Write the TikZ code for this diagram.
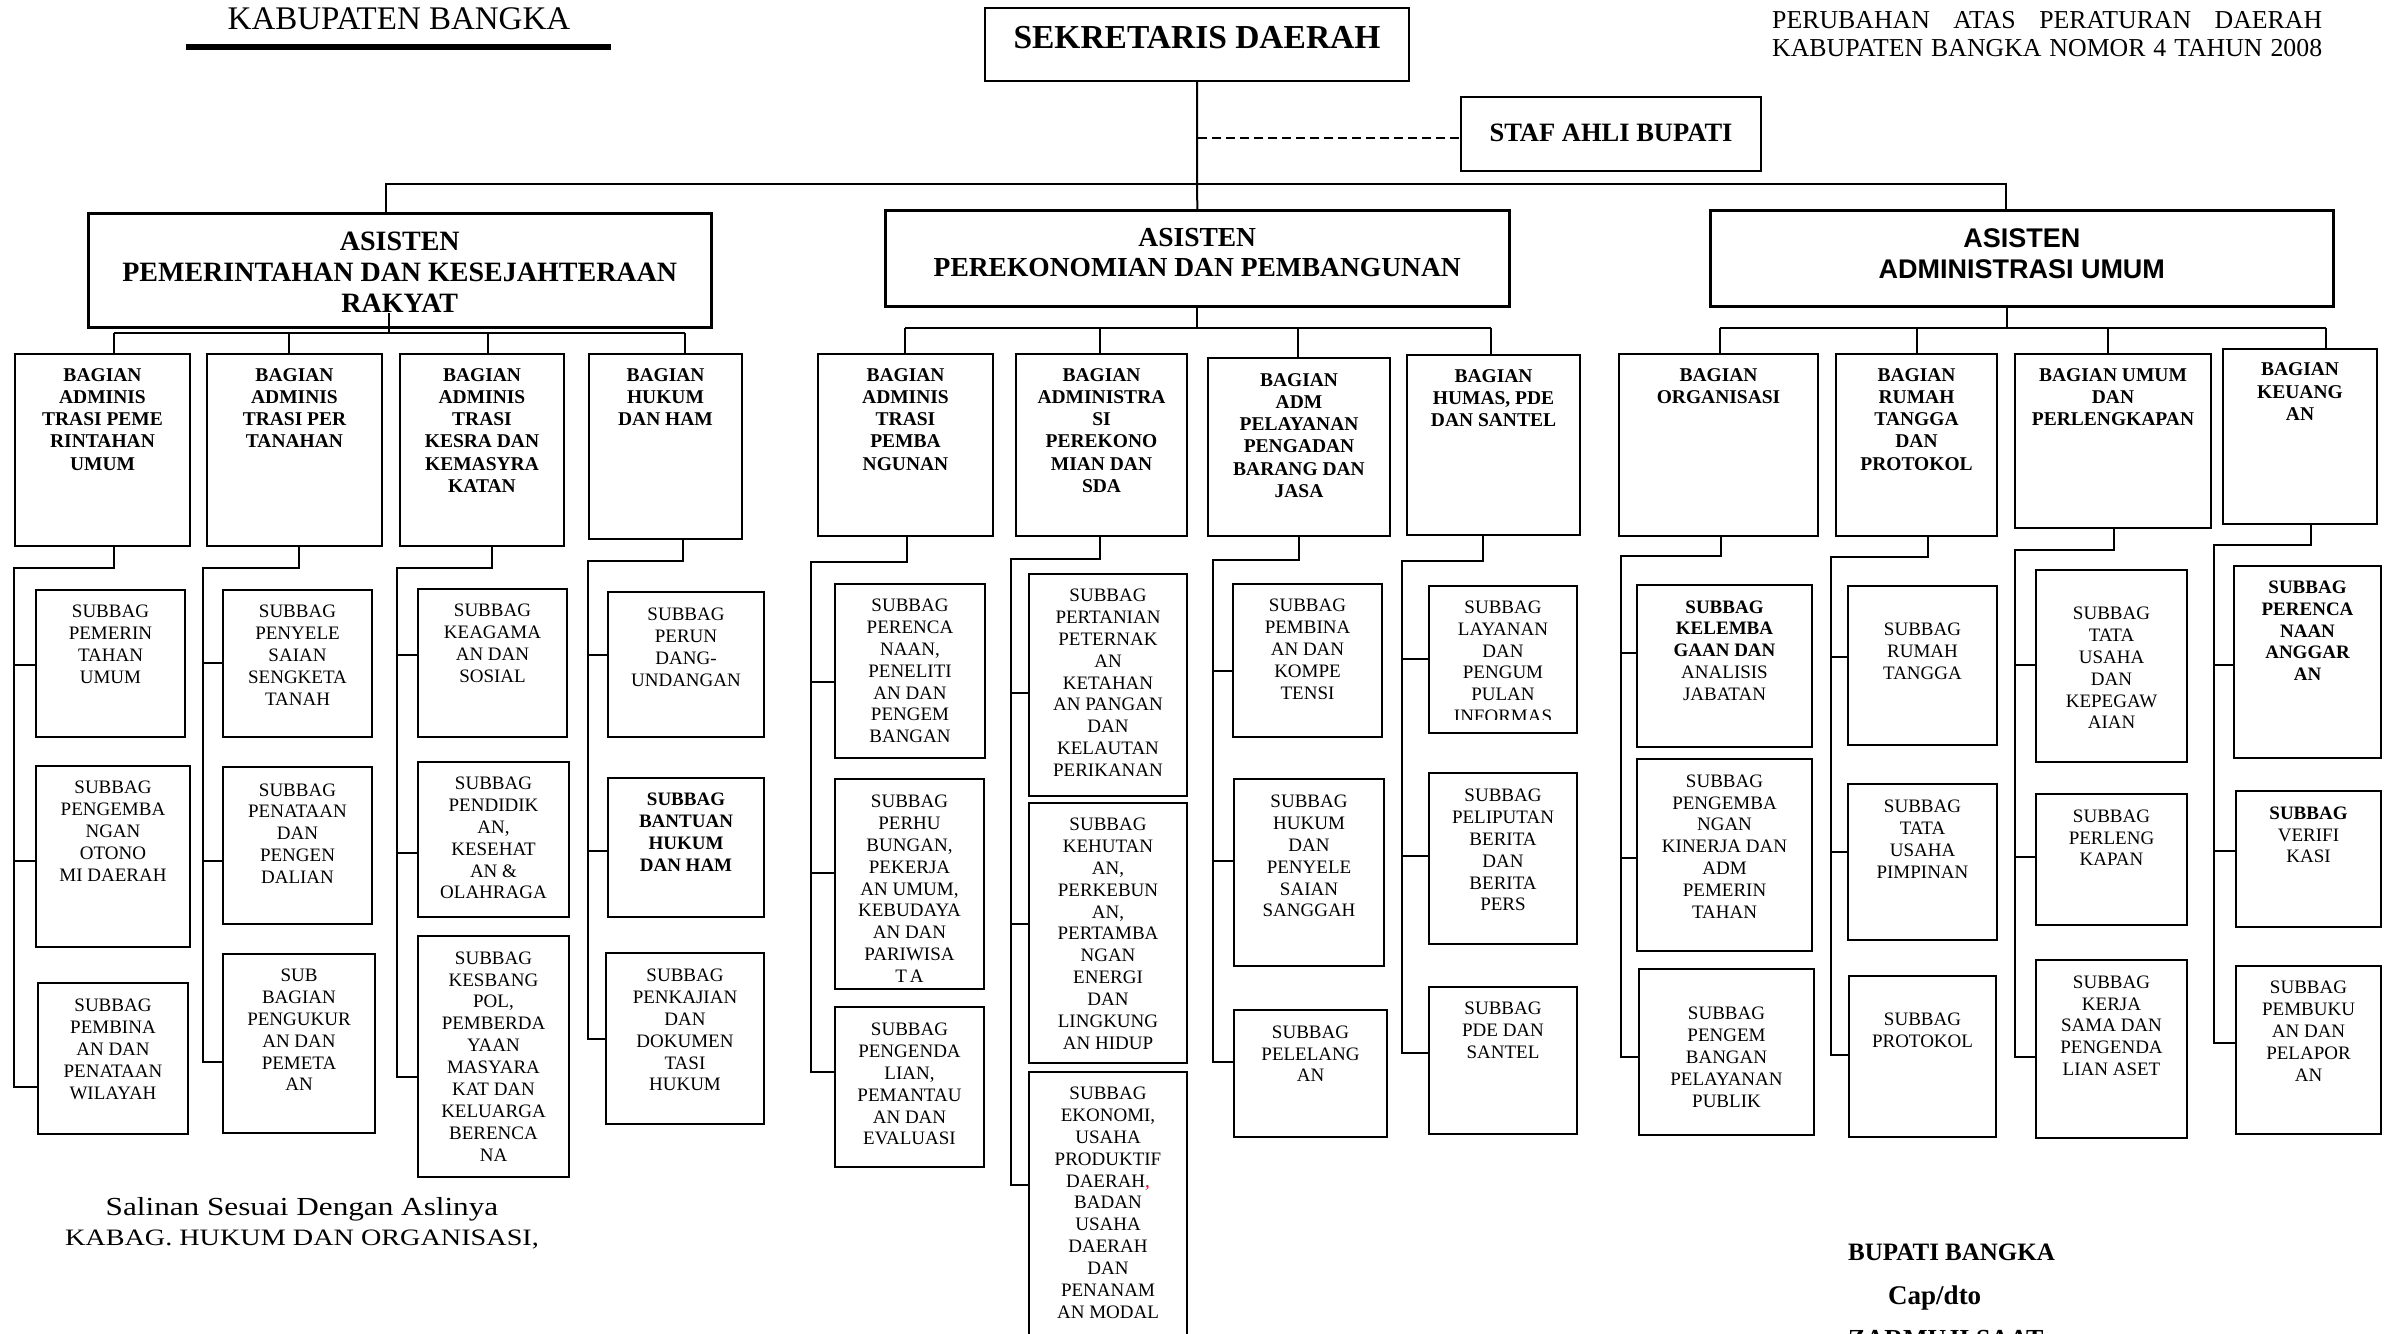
\documentclass[tikz,border=0pt]{standalone}
\usepackage{fontspec}
\setmainfont{Liberation Serif}
\setsansfont{Liberation Sans}
\newfontfamily\widefont[FakeStretch=1.2]{Liberation Serif}
\tikzset{
  box/.style={draw, line width=2pt, inner sep=0pt, anchor=north west},
  thickbox/.style={line width=2.5pt},
  conn/.style={line width=2pt},
  sub/.style={align=center, inner sep=0pt, anchor=north, font=\fontsize{19}{21.9}\selectfont},
  subb/.style={sub, font=\bfseries\fontsize{19}{21.9}\selectfont},
  bag/.style={align=center, inner sep=0pt, anchor=north, font=\bfseries\fontsize{19.5}{22.1}\selectfont},
  asis/.style={align=center, inner sep=0pt, anchor=north},
  plain/.style={inner sep=0pt},
}
\newcommand\bx[6][]{\node[box,#1,minimum width={(#5)-(#3)},minimum height={(#6)-(#4)}] (#2) at (#3,#4) {};}
\newcommand\tx[4][sub]{\node[#1] (#2t) at (#2.north |- 0,#3) {#4};}
\newcommand\spine[6]{\draw[conn] (#1.south -| #2,0) -- (#2,#3) -- (#4,#3) -- (#4,#5) -- (#6.west |- 0,#5);}
\newcommand\tick[3]{\draw[conn] (#2,#3) -- (#1.west |- 0,#3);}
\begin{document}
\begin{tikzpicture}[x=1pt,y=-1pt]
\useasboundingbox (0,0) rectangle (2384,1333);
\fill[white] (0,0) rectangle (2384,1333);
\clip (0,0) rectangle (2384,1333);

% ---------- header ----------
\node[plain, anchor=base, font=\fontsize{33}{36}\selectfont] (kab) at (399,29.3) {KABUPATEN BANGKA};
\draw[line width=6pt] (186,47) -- (611,47);
\node[plain, anchor=base west, font=\fontsize{25.8}{28}\selectfont] (perda1) at (1772,28.3) {\makebox[550pt][s]{PERUBAHAN ATAS PERATURAN DAERAH}};
\node[plain, anchor=base west, font=\fontsize{25.8}{28}\selectfont] (perda2) at (1772,56.7) {\makebox[550pt][s]{KABUPATEN BANGKA NOMOR 4 TAHUN 2008}};

% ---------- top ----------
\bx{sd}{984}{7}{1408}{80}
\node[plain, anchor=base, font=\bfseries\fontsize{33.5}{36}\selectfont] (sdt) at (sd.north |- 0,48.3) {SEKRETARIS DAERAH};
\bx{staf}{1460}{96}{1760}{170}
\node[plain, anchor=base, font=\bfseries\fontsize{26.5}{30}\selectfont] (staft) at (staf.north |- 0,141.7) {STAF AHLI BUPATI};

\bx[thickbox]{a1}{87}{212}{710}{326}
\tx[asis, font=\bfseries\fontsize{28}{31}\selectfont]{a1}{232}{ASISTEN\\PEMERINTAHAN DAN KESEJAHTERAAN\\RAKYAT}
\bx[thickbox]{a2}{884}{209}{1508}{305}
\tx[asis, font=\bfseries\fontsize{27.5}{30.5}\selectfont]{a2}{228}{ASISTEN\\PEREKONOMIAN DAN PEMBANGUNAN}
\bx[thickbox]{a3}{1709}{209}{2332}{305}
\tx[asis, font=\sffamily\bfseries\fontsize{27}{31.7}\selectfont]{a3}{228}{ASISTEN\\ADMINISTRASI UMUM}

\draw[conn] (sd.south) -- (a2.north);
\draw[line width=1.5pt, dash pattern=on 9pt off 5pt] (1198,138) -- (staf.west |- 0,138);
\draw[conn] (a1.north -| 386,0) -- (386,184) -- (2006,184) -- (a3.north -| 2006,0);

% ---------- group 1 ----------
\bx{b1}{14}{353}{189}{545} \tx[bag]{b1}{368.5}{BAGIAN\\ADMINIS\\TRASI PEME\\RINTAHAN\\UMUM}
\bx{b2}{206}{353}{381}{545} \tx[bag]{b2}{368.5}{BAGIAN\\ADMINIS\\TRASI PER\\TANAHAN}
\bx{b3}{399}{353}{563}{545} \tx[bag]{b3}{368.5}{BAGIAN\\ADMINIS\\TRASI\\KESRA DAN\\KEMASYRA\\KATAN}
\bx{b4}{588}{353}{741}{538} \tx[bag]{b4}{368.5}{BAGIAN\\HUKUM\\DAN HAM}

\draw[conn] (389,313) -- (389,333);
\draw[conn] (114,333) -- (685,333);
\draw[conn] (114,333) -- (b1.north -| 114,0);
\draw[conn] (289,333) -- (b2.north -| 289,0);
\draw[conn] (488,333) -- (b3.north -| 488,0);
\draw[conn] (685,333) -- (b4.north -| 685,0);

\bx{s1a}{35}{589}{184}{736} \tx{s1a}{605.1}{SUBBAG\\PEMERIN\\TAHAN\\UMUM}
\bx{s1b}{35}{765}{189}{946} \tx{s1b}{780.7}{SUBBAG\\PENGEMBA\\NGAN\\OTONO\\MI DAERAH}
\bx{s1c}{37}{982}{187}{1133} \tx{s1c}{999}{SUBBAG\\PEMBINA\\AN DAN\\PENATAAN\\WILAYAH}
\bx{s2a}{222}{589}{371}{736} \tx{s2a}{605.1}{SUBBAG\\PENYELE\\SAIAN\\SENGKETA\\TANAH}
\bx{s2b}{222}{766}{371}{923} \tx{s2b}{783.3}{SUBBAG\\PENATAAN\\DAN\\PENGEN\\DALIAN}
\bx{s2c}{222}{953}{374}{1132} \tx{s2c}{968.7}{SUB\\BAGIAN\\PENGUKUR\\AN DAN\\PEMETA\\AN}
\bx{s3a}{417}{588}{566}{736} \tx{s3a}{604.1}{SUBBAG\\KEAGAMA\\AN DAN\\SOSIAL}
\bx{s3b}{417}{761}{568}{916} \tx{s3b}{776.7}{SUBBAG\\PENDIDIK\\AN,\\KESEHAT\\AN \&\\OLAHRAGA}
\bx{s3c}{417}{935}{568}{1176} \tx{s3c}{951.4}{SUBBAG\\KESBANG\\POL,\\PEMBERDA\\YAAN\\MASYARA\\KAT DAN\\KELUARGA\\BERENCA\\NA}
\bx{s4a}{607}{591}{763}{736} \tx{s4a}{607.7}{SUBBAG\\PERUN\\DANG-\\UNDANGAN}
\bx{s4b}{607}{777}{763}{916} \tx[subb]{s4b}{793.1}{SUBBAG\\BANTUAN\\HUKUM\\DAN HAM}
\bx{s4c}{605}{952}{763}{1123} \tx{s4c}{968.7}{SUBBAG\\PENKAJIAN\\DAN\\DOKUMEN\\TASI\\HUKUM}

\spine{b1}{114}{568}{14}{1087}{s1c} \tick{s1a}{14}{665} \tick{s1b}{14}{861}
\spine{b2}{299}{568}{203}{1062}{s2c} \tick{s2a}{203}{663} \tick{s2b}{203}{861}
\spine{b3}{492}{568}{397}{1077}{s3c} \tick{s3a}{397}{655} \tick{s3b}{397}{853}
\spine{b4}{683}{561}{588}{1039}{s4c} \tick{s4a}{588}{655} \tick{s4b}{588}{851}

% ---------- group 2 ----------
\draw[conn] (a2.south) -- (a2.south |- 0,328);
\draw[conn] (905,328) -- (1491,328);
\bx{c1}{817}{353}{992}{535} \tx[bag]{c1}{368.5}{BAGIAN\\ADMINIS\\TRASI\\PEMBA\\NGUNAN}
\bx{c2}{1015}{353}{1186}{535} \tx[bag]{c2}{368.5}{BAGIAN\\ADMINISTRA\\SI\\PEREKONO\\MIAN DAN\\SDA}
\bx{c3}{1207}{357}{1389}{535} \tx[bag]{c3}{373.5}{BAGIAN\\ADM\\PELAYANAN\\PENGADAN\\BARANG DAN\\JASA}
\bx{c4}{1406}{354}{1579}{534} \tx[bag]{c4}{369.2}{BAGIAN\\HUMAS, PDE\\DAN SANTEL}
\draw[conn] (905,328) -- (c1.north -| 905,0);
\draw[conn] (1100,328) -- (c2.north -| 1100,0);
\draw[conn] (1298,328) -- (c3.north -| 1298,0);
\draw[conn] (1491,328) -- (c4.north -| 1491,0);

\bx{d1a}{834}{583}{984}{757} \tx{d1a}{598.7}{SUBBAG\\PERENCA\\NAAN,\\PENELITI\\AN DAN\\PENGEM\\BANGAN}
\bx{d1b}{834}{778}{983}{988} \tx{d1b}{794.7}{SUBBAG\\PERHU\\BUNGAN,\\PEKERJA\\AN UMUM,\\KEBUDAYA\\AN DAN\\PARIWISA\\T\kern3pt A}
\bx{d1c}{834}{1006}{983}{1166} \tx{d1c}{1022.7}{SUBBAG\\PENGENDA\\LIAN,\\PEMANTAU\\AN DAN\\EVALUASI}
\bx{d2a}{1028}{573}{1186}{795} \tx{d2a}{588.7}{SUBBAG\\PERTANIAN\\PETERNAK\\AN\\KETAHAN\\AN PANGAN\\DAN\\KELAUTAN\\PERIKANAN}
\bx{d2b}{1028}{802}{1186}{1062} \tx{d2b}{817.7}{SUBBAG\\KEHUTAN\\AN,\\PERKEBUN\\AN,\\PERTAMBA\\NGAN\\ENERGI\\DAN\\LINGKUNG\\AN HIDUP}
\bx{d2c}{1028}{1071}{1186}{1360} \tx{d2c}{1086.7}{SUBBAG\\EKONOMI,\\USAHA\\PRODUKTIF\\DAERAH{\color{red},}\\BADAN\\USAHA\\DAERAH\\DAN\\PENANAM\\AN MODAL}
\bx{d3a}{1232}{583}{1381}{736} \tx{d3a}{598.7}{SUBBAG\\PEMBINA\\AN DAN\\KOMPE\\TENSI}
\bx{d3b}{1233}{778}{1383}{965} \tx{d3b}{794.7}{SUBBAG\\HUKUM\\DAN\\PENYELE\\SAIAN\\SANGGAH}
\bx{d3c}{1233}{1009}{1386}{1136} \tx{d3c}{1025.4}{SUBBAG\\PELELANG\\AN}
\bx{d4a}{1428}{585}{1576}{732}
\begin{scope}
\clip (1428,585) rectangle (1576,719);
\tx{d4a}{600.5}{SUBBAG\\LAYANAN\\DAN\\PENGUM\\PULAN\\INFORMAS}
\end{scope}
\bx{d4b}{1428}{772}{1576}{943} \tx{d4b}{788.7}{SUBBAG\\PELIPUTAN\\BERITA\\DAN\\BERITA\\PERS}
\bx{d4c}{1428}{986}{1576}{1133} \tx{d4c}{1001.7}{SUBBAG\\PDE DAN\\SANTEL}

\spine{c1}{907}{562}{811}{1072}{d1c} \tick{d1a}{811}{682} \tick{d1b}{811}{873}
\spine{c2}{1100}{559}{1011}{1185}{d2c} \tick{d2a}{1011}{693} \tick{d2b}{1011}{924}
\spine{c3}{1299}{560}{1213}{1062}{d3c} \tick{d3a}{1213}{671} \tick{d3b}{1213}{861}
\spine{c4}{1483}{561}{1402}{1053}{d4c} \tick{d4a}{1402}{659} \tick{d4b}{1402}{856}

% ---------- group 3 ----------
\draw[conn] (a3.south -| 2007,0) -- (2007,328);
\draw[conn] (1720,328) -- (2326,328);
\bx{e1}{1618}{353}{1817}{535} \tx[bag]{e1}{368.5}{BAGIAN\\ORGANISASI}
\bx{e2}{1835}{353}{1996}{535} \tx[bag]{e2}{368.5}{BAGIAN\\RUMAH\\TANGGA\\DAN\\PROTOKOL}
\bx{e3}{2014}{353}{2210}{527} \tx[bag]{e3}{368.5}{BAGIAN UMUM\\DAN\\PERLENGKAPAN}
\bx{e4}{2222}{348}{2376}{523} \tx[bag]{e4}{362.8}{BAGIAN\\KEUANG\\AN}
\draw[conn] (1720,328) -- (e1.north -| 1720,0);
\draw[conn] (1917,328) -- (e2.north -| 1917,0);
\draw[conn] (2108,328) -- (e3.north -| 2108,0);
\draw[conn] (2326,328) -- (e4.north -| 2326,0);

\bx{f1a}{1636}{584}{1811}{746} \tx{f1a}{600.3}{\textbf{SUBBAG}\\\textbf{KELEMBA}\\\textbf{GAAN DAN}\\ANALISIS\\JABATAN}
\bx{f1b}{1636}{758}{1811}{950} \tx{f1b}{774.4}{SUBBAG\\PENGEMBA\\NGAN\\KINERJA DAN\\ADM\\PEMERIN\\TAHAN}
\bx{f1c}{1638}{968}{1813}{1134} \tx{f1c}{1006.7}{SUBBAG\\PENGEM\\BANGAN\\PELAYANAN\\PUBLIK}
\bx{f2a}{1847}{585}{1996}{744} \tx{f2a}{622.7}{SUBBAG\\RUMAH\\TANGGA}
\bx{f2b}{1847}{783}{1996}{939} \tx{f2b}{799.7}{SUBBAG\\TATA\\USAHA\\PIMPINAN}
\bx{f2c}{1848}{975}{1995}{1136} \tx{f2c}{1012.7}{SUBBAG\\PROTOKOL}
\bx{f3a}{2035}{569}{2186}{761} \tx{f3a}{606.7}{SUBBAG\\TATA\\USAHA\\DAN\\KEPEGAW\\AIAN}
\bx{f3b}{2035}{793}{2186}{924} \tx{f3b}{809.4}{SUBBAG\\PERLENG\\KAPAN}
\bx{f3c}{2035}{959}{2186}{1137} \tx{f3c}{975.4}{SUBBAG\\KERJA\\SAMA DAN\\PENGENDA\\LIAN ASET}
\bx{f4a}{2233}{565}{2380}{757} \tx[subb]{f4a}{580.5}{SUBBAG\\PERENCA\\NAAN\\ANGGAR\\AN}
\bx{f4b}{2235}{790}{2380}{926} \tx{f4b}{806.4}{\textbf{SUBBAG}\\VERIFI\\KASI}
\bx{f4c}{2235}{965}{2380}{1133} \tx{f4c}{981}{SUBBAG\\PEMBUKU\\AN DAN\\PELAPOR\\AN}

\spine{e1}{1721}{556}{1621}{1057}{f1c} \tick{f1a}{1621}{653} \tick{f1b}{1621}{858}
\spine{e2}{1928}{557}{1831}{1055}{f2c} \tick{f2a}{1831}{657} \tick{f2b}{1831}{852}
\spine{e3}{2114}{550}{2015}{1057}{f3c} \tick{f3a}{2015}{665} \tick{f3b}{2015}{857}
\spine{e4}{2311}{545}{2214}{1043}{f4c} \tick{f4a}{2214}{665} \tick{f4b}{2214}{851}

% ---------- footer ----------
\node[plain, anchor=base, font=\widefont\fontsize{26}{29}\selectfont] (sal) at (302,1215) {Salinan Sesuai Dengan Aslinya};
\node[plain, anchor=base, font=\widefont\fontsize{23.5}{29}\selectfont] (kabag) at (302,1245) {KABAG. HUKUM DAN ORGANISASI,};
\node[plain, anchor=base west, font=\bfseries\fontsize{25}{29}\selectfont] (bup) at (1848,1260) {BUPATI BANGKA};
\node[plain, anchor=base west, font=\bfseries\fontsize{27}{29}\selectfont] (cap) at (1888,1304) {Cap/dto};
\node[plain, anchor=base west, font=\bfseries\fontsize{26}{29}\selectfont] (nama) at (1848,1347) {ZARMUJI SAAT};
\end{tikzpicture}
\end{document}
